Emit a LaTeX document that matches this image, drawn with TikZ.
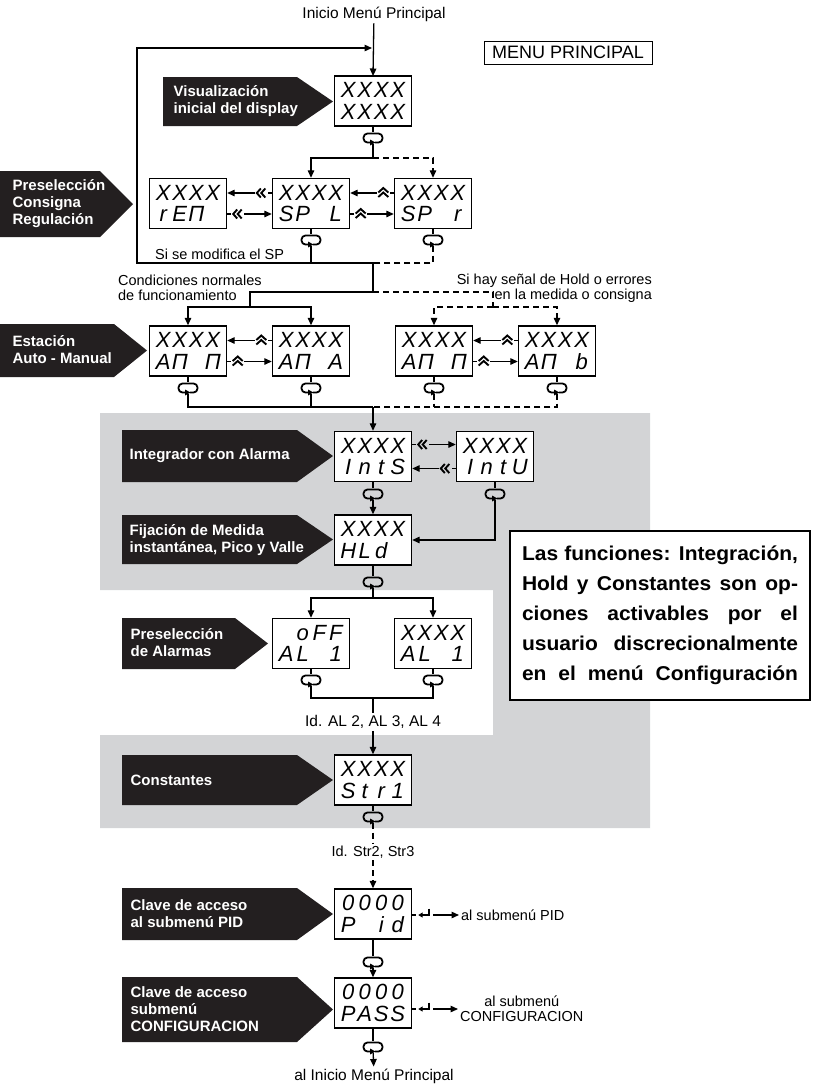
\documentclass[tikz,border=0pt]{standalone}
\usepackage{fontspec}
\setmainfont{Liberation Sans}
\newfontfamily\notefont{Liberation Sans}[FakeStretch=1.05]
\usetikzlibrary{arrows.meta,calc}

\definecolor{panelgray}{RGB}{211,212,214}
\definecolor{bannerblack}{RGB}{35,31,32}

% four fixed-width cells of a display row
\newcommand\cells[4]{\makebox[16.5pt]{#1}\makebox[16.5pt]{#2}\makebox[16.5pt]{#3}\makebox[16.5pt]{#4}}
% black pointer label: left, top, bottom, start of slant, tip
\newcommand\banner[5]{\fill[bannerblack] (#1,#2) -- (#4,#2) -- (#5,{(#2+#3)/2}) -- (#4,#3) -- (#1,#3) -- cycle;}
% key-marked horizontal links between two displays (#1 left, #2 right, #3 vertical offset, #4 mark)
\newcommand\linkrt[4]{%
  \draw ($(#1.east)+(0,#3)$) -- ++(4,0);
  \pic at ($(#1.east)+(10.5,#3)$) {#4};
  \draw[arr] ($(#1.east)+(17,#3)$) -- ($(#2.west)+(0,#3)$);}
\newcommand\linklt[4]{%
  \draw ($(#2.west)+(0,#3)$) -- ++(-4,0);
  \pic at ($(#2.west)+(-10.5,#3)$) {#4};
  \draw[arr] ($(#2.west)+(-17,#3)$) -- ($(#1.east)+(0,#3)$);}
% exit to a submenu: display #1, label #2, vertical offset #3
\newcommand\exitto[3]{%
  \draw ($(#1.east)+(0,#3)$) -- ++(4,0);
  \draw[-{Triangle[length=4.5pt,width=5pt]}, line width=1.5pt] ($(#1.east)+(17,#3-6.5)$) -- ++(0,6.5) -- ++(-11,0);
  \draw[arr] ($(#1.east)+(21,#3)$) -- (#2.west);}

\tikzset{
  arr/.style={-{Triangle[length=7.5pt,width=6.5pt]}},
  dsh/.style={dash pattern=on 6pt off 4pt},
  display/.style={draw, line width=1.4pt, fill=white, minimum width=77pt, minimum height=50pt,
    inner sep=0pt, align=center, font=\fontsize{22}{21.5}\selectfont\itshape},
  keynode/.style={minimum width=20pt, minimum height=10pt, inner sep=0pt},
  lbl/.style={font=\fontsize{14.5}{15}\selectfont, inner sep=1.5pt},
  biglbl/.style={font=\fontsize{15.5}{16}\selectfont, inner sep=1.5pt},
  bantext/.style={text=white, font=\bfseries\fontsize{15}{17}\selectfont, align=left, anchor=west, inner sep=0pt},
  keysym/.pic={
    \draw[line width=1.8pt, rounded corners=4pt] (2,4.5) -- (9.5,4.5) -- (9.5,-4.5) -- (-9.5,-4.5) -- (-9.5,4.5) -- (-2.5,4.5);
    \fill (-3,1.5) -- (2.5,4.5) -- (-3,7.5) -- cycle;},
  chevL/.pic={\draw[line width=1.9pt] (-0.5,-4.5) -- (-4.5,0) -- (-0.5,4.5) (4,-4.5) -- (0,0) -- (4,4.5);},
  chevU/.pic={\draw[line width=1.9pt] (-5,-0.5) -- (0,-5) -- (5,-0.5) (-5,4) -- (0,-0.5) -- (5,4);},
}

\begin{document}
\begin{tikzpicture}[x=1pt, y=-1pt, line width=1.3pt]
\useasboundingbox (0,0) rectangle (816,1085);

% shaded panel of the optional functions
\fill[panelgray] (100,413) -- (650,413) -- (650,828) -- (100,828) -- (100,735)
  -- (493,735) -- (493,590) -- (100,590) -- cycle;

% pointer labels
\banner{163}{77}{126}{297}{333}
\banner{0}{171}{237}{100}{133}
\banner{0}{324}{377}{114}{147}
\banner{122}{430}{482}{297}{333}
\banner{122}{515}{564}{297}{333}
\banner{122}{618}{669}{235}{268}
\banner{122}{755}{805}{297}{333}
\banner{122}{888}{940}{297}{333}
\banner{122}{977}{1042}{297}{333}
\node[bantext] (tb1) at (173,101) {Visualización\\inicial del display};
\node[bantext] (tb2) at (12,204) {Preselección\\Consigna\\Regulación};
\node[bantext] (tb3) at (12,350) {Estación\\Auto - Manual};
\node[bantext] (tb4) at (129,456) {Integrador con Alarma};
\node[bantext] (tb5) at (129,540) {Fijación de Medida\\instantánea, Pico y Valle};
\node[bantext] (tb6) at (130,643) {Preselección\\de Alarmas};
\node[bantext] (tb7) at (130,780) {Constantes};
\node[bantext] (tb8) at (130,914) {Clave de acceso\\al submenú PID};
\node[bantext] (tb9) at (130,1009) {Clave de acceso\\submenú\\CONFIGURACION};

% title box
\node[draw, line width=1pt, minimum width=168pt, minimum height=23pt, inner sep=0pt,
  font=\fontsize{18}{18}\selectfont] (menu) at (568,52.5) {MENU PRINCIPAL};

% displays
\node[display] (v1)   at (373,101)   {\cells XXXX\\\cells XXXX};
\node[display] (ren)  at (188,203.5) {\cells XXXX\\\cells rEΠ{}};
\node[display] (spl)  at (311,203.5) {\cells XXXX\\\cells SP{}L};
\node[display] (spr)  at (433,203.5) {\cells XXXX\\\cells SP{}r};
\node[display] (amn1) at (188,351)   {\cells XXXX\\\cells AΠ{}Π};
\node[display] (ama)  at (311,351)   {\cells XXXX\\\cells AΠ{}A};
\node[display] (amn2) at (434,351)   {\cells XXXX\\\cells AΠ{}Π};
\node[display] (amb)  at (557,351)   {\cells XXXX\\\cells AΠ{}b};
\node[display] (ints) at (373,456.5) {\cells XXXX\\\cells IntS};
\node[display] (intu) at (495,456.5) {\cells XXXX\\\cells IntU};
\node[display] (hld)  at (373,540)   {\cells XXXX\\\cells HLd{}};
\node[display] (off)  at (311,643.5) {\cells{}oFF\\\cells AL{}1};
\node[display] (alb)  at (433,643.5) {\cells XXXX\\\cells AL{}1};
\node[display] (str)  at (373,780)   {\cells XXXX\\\cells Str1};
\node[display] (pid)  at (373,914)   {\cells 0000\\\cells P{}id};
\node[display] (pass) at (373,1003)  {\cells 0000\\\cells PASS};

% key marks below the displays
\foreach \n/\x/\y in {k1/373/138, kSPL/311/240, kSPr/433/240,
    kA1/188/388, kA2/311/388, kA3/434/388, kA4/557/388,
    kIS/373/494, kIU/495/494, kH/373/582, kO/311/680, kB/433/680,
    kS/373/817, kP/373/962, kPa/373/1047}
  \node[keynode] (\n) at (\x,\y) {};

% texts
\node[biglbl] (t0) at (374,14) {Inicio Menú Principal};
\node[lbl, anchor=west] (tsp) at (153,254) {Si se modifica el SP};
\node[lbl, anchor=west, align=left] (tnorm) at (116,288) {Condiciones normales\\de funcionamiento};
\node[lbl, anchor=east, align=right] (thold) at (654,288) {Si hay señal de Hold o errores\\en la medida o consigna};
\node[biglbl] (id1) at (373,722) {Id. AL 2, AL 3, AL 4};
\node[lbl] (id2) at (373,852) {Id. Str2, Str3};
\node[lbl, anchor=west] (lpid) at (459,915) {al submenú PID};
\node[lbl, anchor=west, align=center] (lpass) at (458,1009) {al submenú\\CONFIGURACION};
\node[biglbl] (fin) at (374,1076) {al Inicio Menú Principal};

% main flow
\draw[arr] (t0) -- (373,76);
\draw (v1) -- (k1);
\draw[arr] (k1) -- (373,158) -| (spl);
\draw[arr, dsh] (373,158) -| (spr);
\draw (spl) -- (kSPL);
\draw (spr) -- (kSPr);
\draw[arr] (kSPL) -- (311,263) -- (137,263) -- (137,48) -- (372,48);
\draw (311,263) -- (373,263) -- (373,292) -- (250,292) -- (250,307);
\draw[dsh] (kSPr) -- (433,263) -- (373,263);
\draw[arr] (250,307) -| (amn1);
\draw[arr] (250,307) -| (ama);
\draw[dsh] (373,292) -- (493,292) -- (493,307);
\draw[arr, dsh] (493,307) -| (amn2);
\draw[arr, dsh] (493,307) -| (amb);

\linklt{ren}{spl}{-10.5}{chevL}
\linkrt{ren}{spl}{10.5}{chevL}
\linklt{spl}{spr}{-10.5}{chevU}
\linkrt{spl}{spr}{10.5}{chevU}
\linklt{amn1}{ama}{-10.5}{chevU}
\linkrt{amn1}{ama}{10.5}{chevU}
\linklt{amn2}{amb}{-10.5}{chevU}
\linkrt{amn2}{amb}{10.5}{chevU}

\draw (amn1) -- (kA1);
\draw (ama) -- (kA2);
\draw (amn2) -- (kA3);
\draw (amb) -- (kA4);
\draw (kA1) |- (373,407);
\draw (kA2) -- (311,407);
\draw[dsh] (kA4) |- (373,407);
\draw[dsh] (kA3) -- (434,407);
\draw[arr] (373,407) -- (ints);

\linkrt{ints}{intu}{-12}{chevL}
\linklt{ints}{intu}{12}{chevL}
\draw (ints) -- (kIS);
\draw[arr] (kIS) -- (hld);
\draw (intu) -- (kIU);
\draw[arr] (kIU) |- (hld);

\draw (hld) -- (kH);
\draw[arr] (kH) -- (373,598) -| (off);
\draw[arr] (373,598) -| (alb);
\draw (off) -- (kO);
\draw (alb) -- (kB);
\draw (kO) |- (373,698);
\draw (kB) |- (373,698);
\draw (373,698) -- (id1);
\draw[arr] (id1) -- (str);

\draw (str) -- (kS);
\draw[dsh] (kS) -- (id2);
\draw[arr, dsh] (id2) -- (pid);
\draw (pid) -- (kP);
\draw[arr] (kP) -- (pass);
\draw (pass) -- (kPa);
\draw[arr] (kPa) -- (fin);

% exits to the submenus
\exitto{pid}{lpid}{1}
\exitto{pass}{lpass}{6}

\foreach \n in {k1,kSPL,kSPr,kA1,kA2,kA3,kA4,kIS,kIU,kH,kO,kB,kS,kP,kPa}
  \pic at (\n) {keysym};

% note on the optional functions
\node[draw, line width=1.5pt, fill=white, minimum width=300pt, minimum height=169pt, inner sep=0pt,
  align=center, font=\notefont\bfseries\fontsize{20}{30}\selectfont] (note) at (660,615.5)
  {\makebox[276pt][s]{Las funciones: Integración,}\\
   \makebox[276pt][s]{Hold y Constantes son op-}\\
   \makebox[276pt][s]{ciones activables por el}\\
   \makebox[276pt][s]{usuario discrecionalmente}\\
   \makebox[276pt][s]{en el menú Configuración}};
\end{tikzpicture}
\end{document}
